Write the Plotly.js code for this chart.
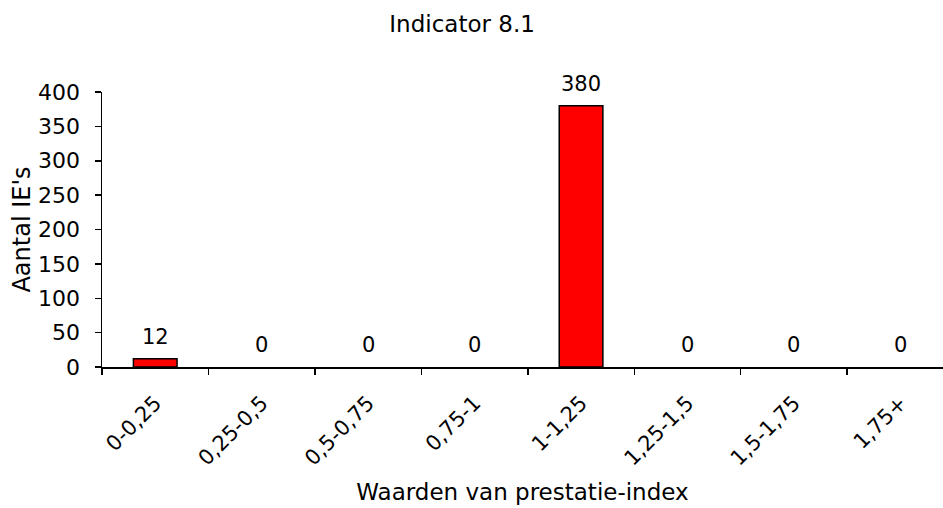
<!DOCTYPE html>
<html>
<head>
<meta charset="utf-8">
<script src="https://cdn.plot.ly/plotly-3.0.1.min.js"></script>
<style>html,body{margin:0;padding:0;background:#fff;}#chart{width:943px;height:508px;}</style>
</head>
<body>
<div id="chart"></div>
<script>
const categories = ["0-0,25", "0,25-0,5", "0,5-0,75", "0,75-1", "1-1,25", "1,25-1,5", "1,5-1,75", "1,75+"];
const counts = [12, 0, 0, 0, 380, 0, 0, 0];
const yTicks = [0, 50, 100, 150, 200, 250, 300, 350, 400];

const FONT = "DejaVu Sans, Verdana, sans-serif";

const trace = {
  type: "bar",
  x: categories,
  y: counts,
  width: 0.41,
  marker: {color: "#ff0000", line: {color: "#000000", width: counts.map(v => v > 0 ? 1.5 : 0)}},
  hoverinfo: "x+y"
};

const annotations = categories.map((c, i) => ({
  x: c, y: counts[i], xref: "x", yref: "y",
  text: String(counts[i]),
  showarrow: false, yanchor: "bottom", yshift: 8,
  font: {family: FONT, size: 21, color: "#000"}
}));

const layout = {
  width: 943, height: 508,
  paper_bgcolor: "#fff", plot_bgcolor: "#fff",
  margin: {l: 102, r: 0, t: 92, b: 141, pad: 0},
  showlegend: false,
  font: {family: FONT, color: "#000"},
  title: {text: "Indicator 8.1", font: {family: FONT, size: 23, color: "#000"}, x: 0.49, xref: "container", xanchor: "center", y: 0.953, yref: "container", yanchor: "middle"},
  xaxis: {
    type: "category",
    range: [-0.5, 7.4],
    tickson: "boundaries",
    ticks: "outside", ticklen: 6, tickwidth: 1.5, tickcolor: "#000",
    showline: true, linecolor: "#000", linewidth: 1.5,
    showgrid: false, zeroline: false,
    tickangle: -45,
    ticklabelstandoff: 14,
    tickfont: {family: FONT, size: 21, color: "#000"},
    title: {text: "Waarden van prestatie-index", font: {family: FONT, size: 23, color: "#000"}, standoff: 14}
  },
  yaxis: {
    range: [0, 400],
    tickvals: yTicks,
    ticktext: yTicks.map(String),
    ticks: "outside", ticklen: 6, tickwidth: 1.5, tickcolor: "#000",
    showline: true, linecolor: "#000", linewidth: 1.5,
    showgrid: false, zeroline: false,
    ticklabelstandoff: 10,
    tickfont: {family: FONT, size: 22, color: "#000"},
    title: {text: "Aantal IE's", font: {family: FONT, size: 24, color: "#000"}, standoff: 0}
  },
  annotations: annotations
};

Plotly.newPlot("chart", [trace], layout, {displayModeBar: false, staticPlot: true});
</script>
</body>
</html>
